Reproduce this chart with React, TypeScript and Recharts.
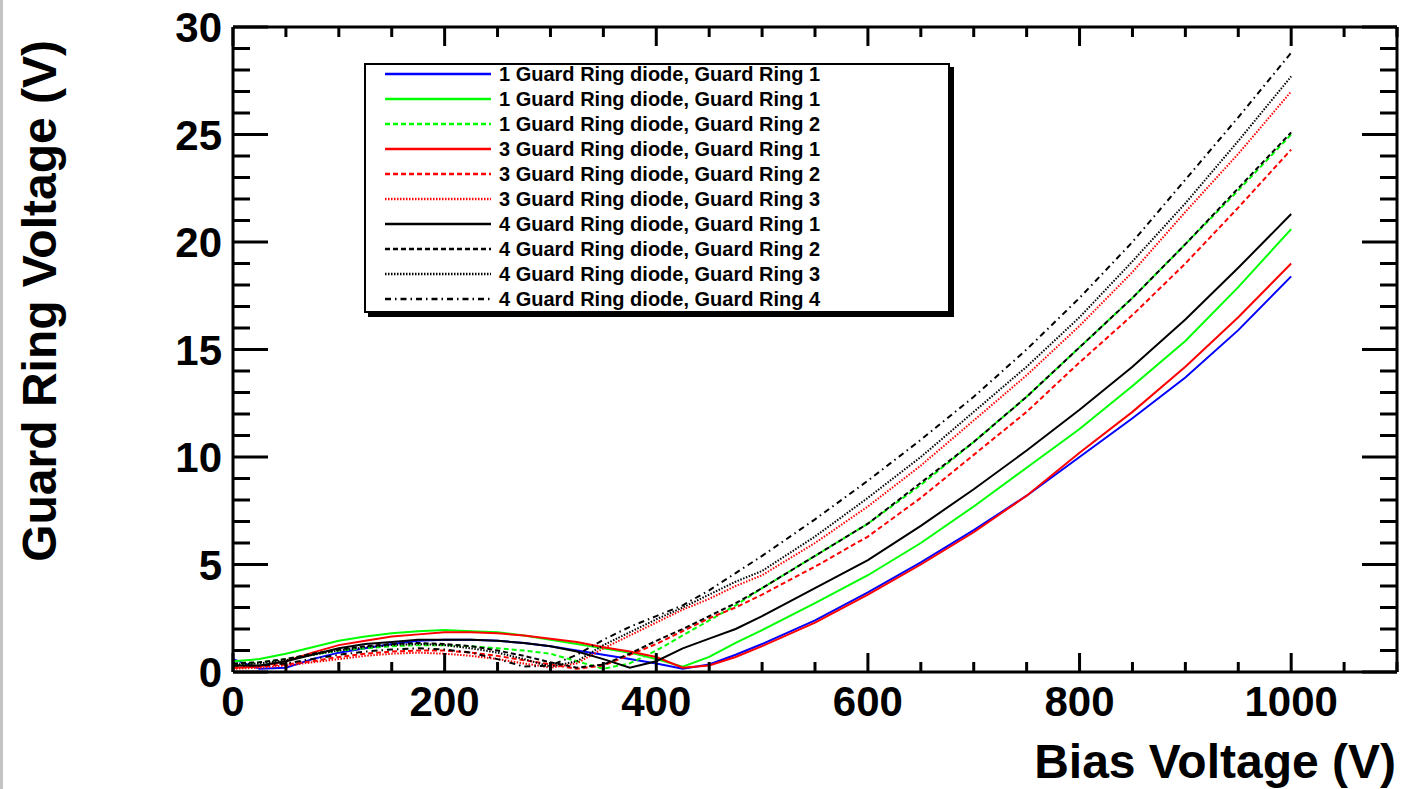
import { LineChart, Line, XAxis, YAxis, Legend } from "recharts"

// bias voltage steps (V)
const biasVoltage = [
  0, 25, 50, 75, 100, 125, 150, 175, 200, 225, 250, 275, 300, 325, 350, 375, 400, 425, 450, 475,
  500, 550, 600, 650, 700, 750, 800, 850, 900, 950, 1000,
]

// guard ring voltages (V)
const d1Ring1Blue = [
  0.6, 0.15, 0.2, 0.6, 0.9, 1.1, 1.3, 1.45, 1.5, 1.5, 1.45, 1.35, 1.2, 1.0, 0.8, 0.6, 0.4, 0.15, 0.35, 0.8,
  1.3, 2.4, 3.7, 5.1, 6.6, 8.2, 10.0, 11.8, 13.7, 15.9, 18.4,
]
const d1Ring1Green = [
  0.5, 0.6, 0.85, 1.15, 1.45, 1.65, 1.8, 1.9, 1.95, 1.9, 1.85, 1.7, 1.5, 1.3, 1.1, 0.9, 0.6, 0.25, 0.7, 1.35,
  1.95, 3.2, 4.5, 6.0, 7.7, 9.5, 11.3, 13.3, 15.4, 17.9, 20.6,
]
const d1Ring2 = [
  0.35, 0.45, 0.6, 0.8, 1.0, 1.1, 1.2, 1.25, 1.25, 1.2, 1.1, 1.0, 0.85, 0.5, 0.15, 0.4, 1.0, 1.7, 2.4, 3.1,
  3.9, 5.4, 6.9, 8.7, 10.7, 12.8, 15.1, 17.4, 19.9, 22.4, 25.0,
]
const d3Ring1 = [
  0.2, 0.25, 0.5, 0.9, 1.25, 1.45, 1.65, 1.75, 1.85, 1.85, 1.8, 1.7, 1.55, 1.4, 1.15, 0.95, 0.7, 0.2, 0.3, 0.7,
  1.2, 2.3, 3.6, 5.0, 6.5, 8.2, 10.2, 12.1, 14.2, 16.5, 19.0,
]
const d3Ring2 = [
  0.2, 0.25, 0.35, 0.5, 0.7, 0.85, 0.95, 1.0, 1.0, 0.9, 0.75, 0.55, 0.35, 0.15, 0.3, 0.8, 1.3, 1.9, 2.5, 3.0,
  3.6, 4.9, 6.3, 8.1, 10.1, 12.1, 14.4, 16.6, 19.0, 21.6, 24.3,
]
const d3Ring3 = [
  0.15, 0.2, 0.3, 0.45, 0.6, 0.75, 0.85, 0.9, 0.85, 0.75, 0.6, 0.4, 0.2, 0.4, 1.1, 1.7, 2.3, 2.9, 3.4, 4.0,
  4.5, 6.0, 7.7, 9.6, 11.7, 13.8, 16.1, 18.6, 21.4, 24.1, 27.0,
]
const d4Ring1 = [
  0.3, 0.3, 0.5, 0.8, 1.1, 1.3, 1.4, 1.5, 1.5, 1.5, 1.45, 1.35, 1.2, 0.95, 0.6, 0.2, 0.5, 1.1, 1.55, 2.0,
  2.6, 3.9, 5.2, 6.8, 8.5, 10.3, 12.2, 14.2, 16.4, 18.8, 21.3,
]
const d4Ring2 = [
  0.4, 0.45, 0.6, 0.85, 1.05, 1.2, 1.3, 1.35, 1.3, 1.2, 1.0, 0.75, 0.45, 0.2, 0.35, 0.85, 1.45, 2.0, 2.6, 3.2,
  3.9, 5.4, 6.9, 8.8, 10.7, 12.8, 15.1, 17.4, 19.9, 22.5, 25.1,
]
const d4Ring3 = [
  0.35, 0.4, 0.55, 0.8, 1.0, 1.15, 1.25, 1.3, 1.25, 1.1, 0.9, 0.6, 0.25, 0.5, 1.25, 1.85, 2.45, 3.0, 3.6, 4.2,
  4.7, 6.3, 8.1, 10.0, 12.1, 14.2, 16.5, 19.1, 21.8, 24.7, 27.7,
]
const d4Ring4 = [
  0.3, 0.3, 0.4, 0.6, 0.8, 0.95, 1.05, 1.1, 1.05, 0.9, 0.6, 0.25, 0.3, 0.8, 1.5, 2.1, 2.6, 3.1, 3.8, 4.6,
  5.4, 7.1, 8.9, 10.8, 12.8, 15.0, 17.4, 20.0, 22.9, 25.8, 28.8,
]

const xTicks = Array.from({ length: 23 }, (_, i) => i * 50)
const yTicks = Array.from({ length: 31 }, (_, i) => i)

const DASHED = "5 3"
const DOTTED = "1.5 1.5"
const DASHDOT = "6 4 1.5 4"

const SERIES = [
  { key: "b1", name: "1 Guard Ring diode, Guard Ring 1", color: "#0000ff", dash: undefined, values: d1Ring1Blue },
  { key: "g1", name: "1 Guard Ring diode, Guard Ring 1", color: "#00ff00", dash: undefined, values: d1Ring1Green },
  { key: "g2", name: "1 Guard Ring diode, Guard Ring 2", color: "#00ff00", dash: DASHED, values: d1Ring2 },
  { key: "r1", name: "3 Guard Ring diode, Guard Ring 1", color: "#ff0000", dash: undefined, values: d3Ring1 },
  { key: "r2", name: "3 Guard Ring diode, Guard Ring 2", color: "#ff0000", dash: DASHED, values: d3Ring2 },
  { key: "r3", name: "3 Guard Ring diode, Guard Ring 3", color: "#ff0000", dash: DOTTED, values: d3Ring3 },
  { key: "k1", name: "4 Guard Ring diode, Guard Ring 1", color: "#000000", dash: undefined, values: d4Ring1 },
  { key: "k2", name: "4 Guard Ring diode, Guard Ring 2", color: "#000000", dash: DASHED, values: d4Ring2 },
  { key: "k3", name: "4 Guard Ring diode, Guard Ring 3", color: "#000000", dash: DOTTED, values: d4Ring3 },
  { key: "k4", name: "4 Guard Ring diode, Guard Ring 4", color: "#000000", dash: DASHDOT, values: d4Ring4 },
]

const data = biasVoltage.map((v, i) => {
  const row: Record<string, number> = { v }
  SERIES.forEach((s) => { row[s.key] = s.values[i] })
  return row
})

const FONT = "'Liberation Sans', Arial, Helvetica, sans-serif"
const LABEL_SIZE = 42

const BottomTick = (p: any) => {
  const v = p.payload.value
  const major = v % 200 === 0
  return (
    <g>
      <line x1={p.x} x2={p.x} y1={p.y} y2={p.y - (major ? 19 : 10)} stroke="#000" strokeWidth={3} />
      {major && v <= 1000 && (
        <text x={p.x} y={p.y + 44} textAnchor="middle" fontFamily={FONT} fontWeight="bold" fontSize={LABEL_SIZE} fill="#000">
          {v}
        </text>
      )}
    </g>
  )
}

const TopTick = (p: any) => {
  const major = p.payload.value % 200 === 0
  return <line x1={p.x} x2={p.x} y1={p.y} y2={p.y + (major ? 19 : 10)} stroke="#000" strokeWidth={3} />
}

const LeftTick = (p: any) => {
  const v = p.payload.value
  const major = v % 5 === 0
  return (
    <g>
      <line x1={p.x} x2={p.x + (major ? 35 : 17)} y1={p.y} y2={p.y} stroke="#000" strokeWidth={3} />
      {major && (
        <text x={p.x - 11} y={p.y + 15} textAnchor="end" fontFamily={FONT} fontWeight="bold" fontSize={LABEL_SIZE} fill="#000">
          {v}
        </text>
      )}
    </g>
  )
}

const RightTick = (p: any) => {
  const major = p.payload.value % 5 === 0
  return <line x1={p.x} x2={p.x - (major ? 35 : 17)} y1={p.y} y2={p.y} stroke="#000" strokeWidth={3} />
}

const renderLegend = () => (
  <div
    style={{
      position: "relative", width: 586, height: 250, boxSizing: "border-box",
      background: "#fff", border: "2px solid #000", boxShadow: "4px 4px 0 #000",
      fontFamily: FONT, fontWeight: "bold", fontSize: 20, color: "#000",
    }}
  >
    {SERIES.map((s, i) => (
      <div key={s.key} style={{ position: "absolute", left: 19, top: 9 + i * 25, height: 0 }}>
        <svg width={106} height={6} style={{ position: "absolute", left: 0, top: -3 }}>
          <line x1={0} x2={106} y1={3} y2={3} stroke={s.color} strokeWidth={2.5} strokeDasharray={s.dash} />
        </svg>
        <span style={{ position: "absolute", left: 114, top: -12, whiteSpace: "nowrap", lineHeight: "24px" }}>{s.name}</span>
      </div>
    ))}
  </div>
)

export default function App() {
  return (
    <div style={{ position: "absolute", left: 0, top: 0, width: 1403, height: 789, background: "#fff" }}>
      <div style={{ position: "absolute", left: 0, top: 0, width: 3, height: 789, background: "#c4c4c4" }} />
      <LineChart width={1403} height={789} data={data} margin={{ top: 26, right: 5, left: 0, bottom: 0 }}>
        <XAxis
          dataKey="v" type="number" domain={[0, 1100]} ticks={xTicks} interval={0} height={117}
          tickSize={0} tickMargin={0} tickLine={false} tick={BottomTick}
          axisLine={{ stroke: "#000", strokeWidth: 3 }}
          label={() => (
            <text x={1396} y={778} textAnchor="end" fontFamily={FONT} fontWeight="bold" fontSize={48} fill="#000">
              Bias Voltage (V)
            </text>
          )}
        />
        <XAxis
          xAxisId="top" orientation="top" dataKey="v" type="number" domain={[0, 1100]} ticks={xTicks} interval={0}
          height={1} tickSize={0} tickMargin={0} tickLine={false} tick={TopTick}
          axisLine={{ stroke: "#000", strokeWidth: 3 }}
        />
        <YAxis
          type="number" domain={[0, 30]} ticks={yTicks} interval={0} width={233}
          tickSize={0} tickMargin={0} tickLine={false} tick={LeftTick}
          axisLine={{ stroke: "#000", strokeWidth: 3 }}
          label={() => (
            <text transform="rotate(-90)" x={-40} y={56} textAnchor="end" fontFamily={FONT} fontWeight="bold" fontSize={48} fill="#000">
              Guard Ring Voltage (V)
            </text>
          )}
        />
        <YAxis
          yAxisId="right" orientation="right" type="number" domain={[0, 30]} ticks={yTicks} interval={0} width={1}
          tickSize={0} tickMargin={0} tickLine={false} tick={RightTick}
          axisLine={{ stroke: "#000", strokeWidth: 3 }}
        />
        <Legend
          content={renderLegend} layout="vertical" align="center" verticalAlign="middle"
          wrapperStyle={{ left: 364, top: 63, width: 586, height: 250 }}
        />
        {SERIES.map((s) => (
          <Line
            key={s.key} dataKey={s.key} name={s.name} type="linear" stroke={s.color} strokeWidth={2}
            strokeDasharray={s.dash} dot={false} isAnimationActive={false} legendType="line"
          />
        ))}
        {/* transparent copy so the frame axes (top / right) get drawn */}
        <Line
          xAxisId="top" yAxisId="right" dataKey="k4" stroke="#000" strokeOpacity={0} dot={false} activeDot={false}
          isAnimationActive={false} legendType="none"
        />
      </LineChart>
    </div>
  )
}
